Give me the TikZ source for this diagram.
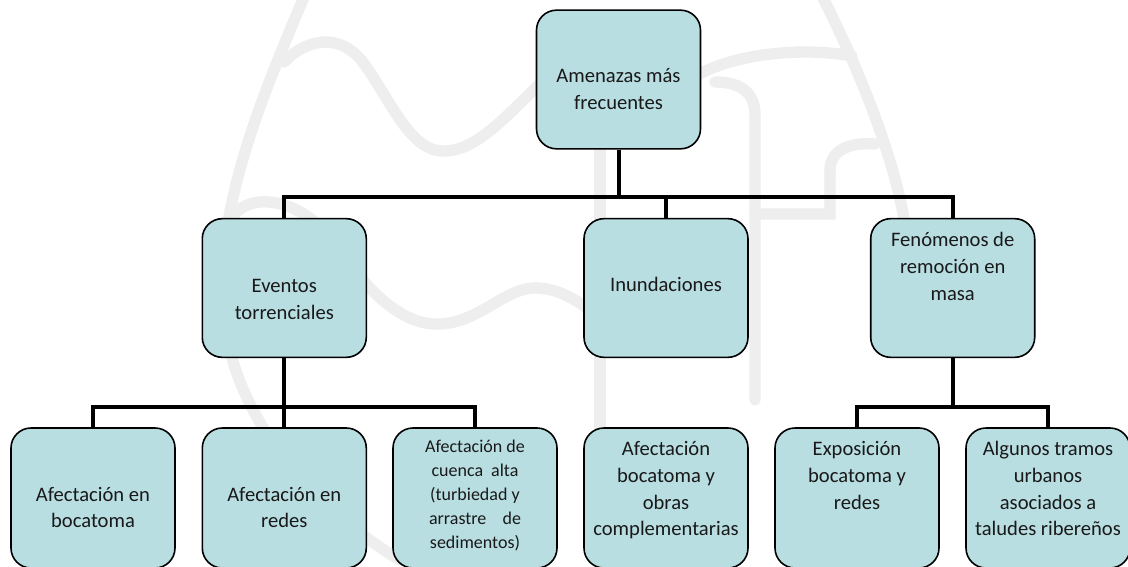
\documentclass[tikz,border=0pt]{standalone}
\usepackage{fontspec}
\setmainfont{Carlito}
\definecolor{boxfill}{RGB}{184,222,226}
\definecolor{wm}{RGB}{238,238,238}
\begin{document}
\begin{tikzpicture}[x=0.75pt,y=-0.75pt,
  box/.style={draw=black, line width=1.2pt, fill=boxfill, rounded corners=15pt,
    minimum width=123pt, minimum height=104pt, inner sep=0pt},
  lowbox/.style={box, minimum height=105pt},
  txt/.style={font=\fontsize{15.45}{20}\selectfont, align=center, inner sep=0pt, text=black!90},
  smalltxt/.style={font=\fontsize{13.5}{18}\selectfont, align=center, inner sep=0pt, text=black!90},
  conn/.style={draw=black, line width=3pt, line join=miter},
  wmline/.style={draw=wm, line width=8.5pt, line cap=round}]
\useasboundingbox (0,0) rectangle (1128,567);
\fill[white] (0,0) rectangle (1128,567);
% watermark
\draw[wmline] (306,-8) .. controls (265,90) and (222,190) .. (222,290)
   .. controls (222,400) and (300,500) .. (400,560);
\draw[wmline] (284,62) .. controls (305,40) and (340,30) .. (365,65)
   .. controls (390,100) and (410,150) .. (442,151)
   .. controls (480,152) and (510,110) .. (560,65);
\draw[wmline] (228,228) .. controls (236,190) and (300,190) .. (340,250)
   .. controls (370,295) and (405,326) .. (440,324)
   .. controls (480,322) and (505,288) .. (535,288)
   .. controls (560,288) and (580,302) .. (600,318);
\draw[wmline] (820,-8) .. controls (860,70) and (895,160) .. (905,225)
   .. controls (915,280) and (925,320) .. (925,340);
\draw[wmline] (690,80) .. controls (720,58) and (790,45) .. (852,56);
\draw[wmline] (600,140) -- (600,450);
\draw[wmline] (755,400) -- (755,115) .. controls (755,92) and (740,82) .. (715,82);
\draw[wmline] (755,214) -- (830,214) -- (830,170) .. controls (830,150) and (850,142) .. (875,144);
% boxes
\node[box] (top) at (618.5,79.5) {};
\node[box] (ev)  at (284.3,288) {};
\node[box] (inu) at (666,288) {};
\node[box] (fen) at (952.7,288) {};
\node[lowbox] (b1) at (93,498) {};
\node[lowbox] (b2) at (284.3,498) {};
\node[lowbox] (b3) at (475,498) {};
\node[lowbox] (b4) at (666,498) {};
\node[lowbox] (b5) at (857,498) {};
\node[lowbox] (b6) at (1048,498) {};
% connectors
\coordinate (j1) at (618.5,197);
\draw[conn] (top.south) -- (j1);
\draw[conn] (ev.north) |- (j1) -| (fen.north);
\draw[conn] (inu.north) -- (inu.north |- j1);
\coordinate (j2) at (284.3,406.5);
\draw[conn] (ev.south) -- (b2.north);
\draw[conn] (b1.north) |- (j2) -| (b3.north);
\coordinate (j3) at (952.7,406.5);
\draw[conn] (fen.south) -- (j3);
\draw[conn] (b5.north) |- (j3) -| (b6.north);
% texts
\node[txt] (ttop) at (618.5,90.5) {\strut Amenazas más\\frecuentes\strut};
\node[txt] (tev) at (284.3,300.5) {\strut Eventos\\torrenciales\strut};
\node[txt] (tinu) at (666,286) {\strut Inundaciones\strut};
\node[txt] (tfen) at (952.7,268) {\strut Fenómenos de\\remoción en\\masa\strut};
\node[txt] (tb1) at (93,509) {\strut Afectación en\\bocatoma\strut};
\node[txt] (tb2) at (284.3,509) {\strut Afectación en\\redes\strut};
\node[smalltxt] (tb3) at (475,495.5) {\strut Afectación de\\cuenca\hspace{0.45em}alta\\(turbiedad y\\arrastre\hspace{0.9em}de\\sedimentos)\strut};
\node[txt] (tb4) at (666,490.5) {\strut Afectación\\bocatoma y\\obras\\complementarias\strut};
\node[txt] (tb5) at (857,477) {\strut Exposición\\bocatoma y\\redes\strut};
\node[txt] (tb6) at (1048,490.5) {\strut Algunos tramos\\urbanos\\asociados a\\taludes ribereños\strut};
\end{tikzpicture}
\end{document}
